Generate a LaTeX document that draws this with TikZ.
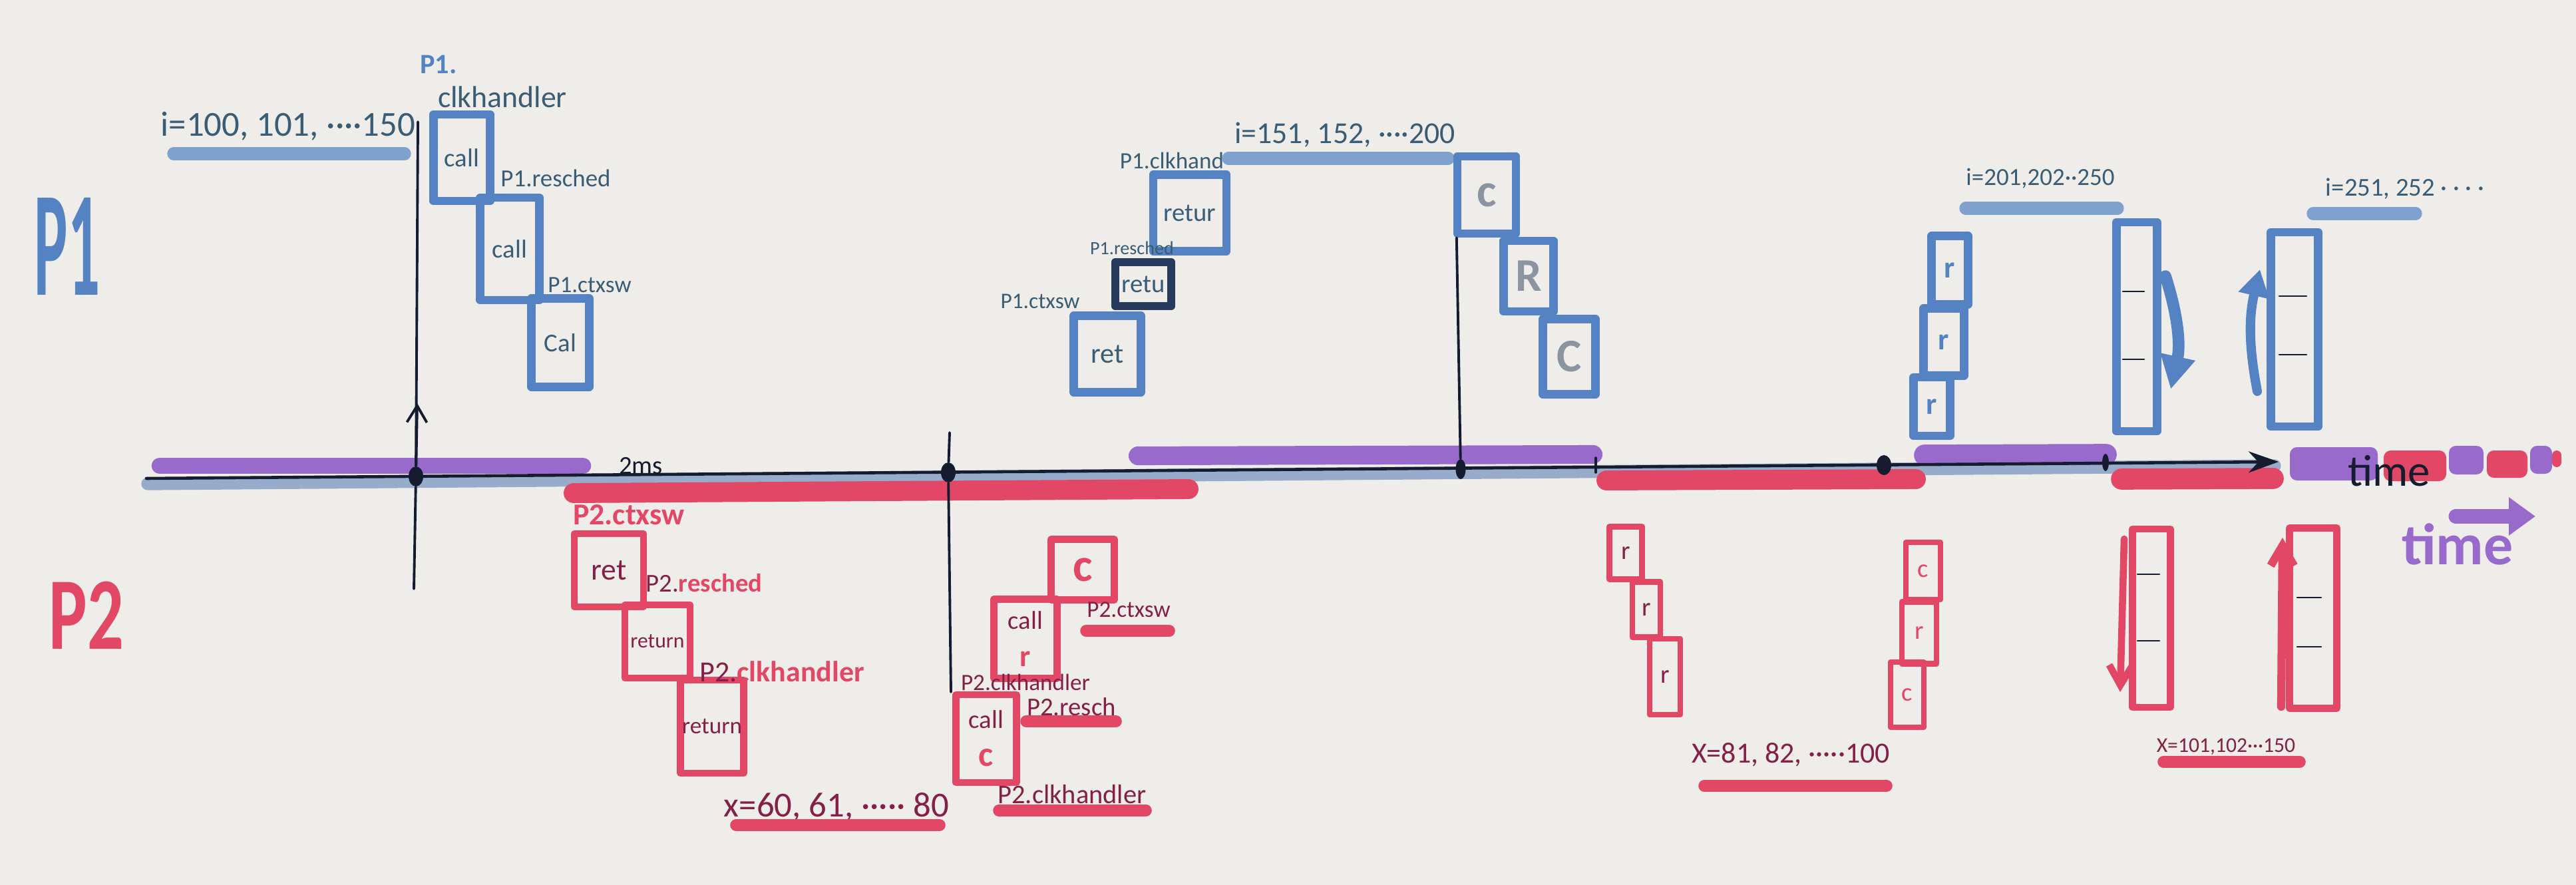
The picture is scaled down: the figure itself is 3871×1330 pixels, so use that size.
\documentclass[tikz,border=0pt]{standalone}
\usepackage{fontspec}
\setmainfont{Carlito}
\usetikzlibrary{arrows.meta,shapes.geometric}
\definecolor{board}{RGB}{238,237,233}
\definecolor{markblue}{RGB}{84,130,194}
\definecolor{lineblue}{RGB}{128,160,206}
\definecolor{axisblue}{RGB}{150,172,202}
\definecolor{markpurple}{RGB}{152,106,204}
\definecolor{markred}{RGB}{226,72,102}
\definecolor{inkblue}{RGB}{58,92,116}
\definecolor{inkred}{RGB}{132,32,72}
\definecolor{inkgrey}{RGB}{140,148,160}
\definecolor{inkdark}{RGB}{22,28,48}
\newcommand{\fsz}[1]{\fontsize{#1}{#1}\selectfont}

\begin{document}
\begin{tikzpicture}[x=0.01cm, y=-0.01cm, line cap=round, line join=round,
  every node/.style={inner sep=0pt},
  boxsz/.style 2 args={minimum width=#1mm, minimum height=#2mm},
  bluebox/.style={draw=markblue, line width=3.5pt, text=inkblue, font=\fsz{11}},
  redbox/.style={draw=markred, line width=3pt, text=inkred, font=\fsz{11}},
  bluelbl/.style={text=inkblue, font=\fsz{11}},
  redlbl/.style={text=inkred, font=\fsz{11}},
  blueline/.style={lineblue, line width=5.5pt},
  redline/.style={markred, line width=5pt},
  blueband/.style={axisblue, line width=5.5pt},
  purpleband/.style={markpurple, line width=8pt},
  redband/.style={markred, line width=8.5pt},
  axisdot/.style={ellipse, fill=inkdark, minimum width=2.2mm, minimum height=3mm},
  divider/.style={inkdark, line width=0.8pt}]
\fill[board] (0,0) rectangle (3871,1330);
\useasboundingbox (0,0) rectangle (3871,1330);

\draw[blueband] (222,727) -- (3418,700);
\draw[purpleband, line width=7pt] (240,700) -- (876,700);
\draw[purpleband] (1710,685) -- (2394,683);
\draw[purpleband, line width=9pt] (2892,684) -- (3165,683);
\draw[redband] (862,741) -- (1786,735);
\draw[redband] (2414,722) -- (2879,720);
\draw[redband, line width=9pt] (3188,720) -- (3416,719);
\fill[markpurple, rounded corners=3pt] (3441,672) rectangle (3573,722);
\fill[markred, rounded corners=3pt] (3582,677) rectangle (3676,723);
\fill[markpurple, rounded corners=3pt] (3680,670) rectangle (3732,713);
\fill[markred, rounded corners=3pt] (3737,677) rectangle (3798,718);
\fill[markpurple, rounded corners=3pt] (3802,670) rectangle (3835,712);
\fill[markred, rounded corners=2pt] (3835,677) rectangle (3849,702);

\coordinate (ax0) at (220,719);
\coordinate (ax1) at (3424,694);
\draw[inkdark, line width=1.3pt, -{Stealth[length=4.5mm, width=3.2mm]}] (ax0) -- (ax1);
\draw[inkdark, line width=1pt] (2398,688) -- (2398,710);
\node[axisdot] (dt1) at (625,716) {};
\node[axisdot] (dt2) at (1425,710) {};
\node[axisdot, minimum width=1.5mm] (dt3) at (2195,705) {};
\node[axisdot] (dt4) at (2831,699) {};
\node[axisdot, minimum width=1mm, minimum height=2.6mm] (dt5) at (3164,695) {};
\node[font=\fsz{11}, text=inkdark] (twoms) at (963,700) {2ms};
\node[font=\fsz{19}, text=inkdark] (timelbl) at (3590,708) {time};

\node[text=markblue, font=\fsz{64}\bfseries, xscale=0.42, transform shape] (pone) at (101,370) {P1};
\node[text=markred, font=\fsz{44}\bfseries, xscale=0.7, transform shape] (ptwo) at (130,925) {P2};

\node[bluebox, boxsz={8.5}{13}] (clkA) at (694,237) {call};
\node[bluebox, boxsz={8.9}{15.4}] (resA) at (766,374) {call};
\node[bluebox, boxsz={8.7}{13.3}] (ctxA) at (842,515) {Cal};
\node[text=markblue, font=\fsz{12}\bfseries] (pA) at (659,97) {P1.};
\node[bluelbl, font=\fsz{13}] (clkAlbl) at (755,146) {clkhandler};
\node[bluelbl, font=\fsz{10.5}] (resAlbl) at (835,268) {P1.resched};
\node[bluelbl, font=\fsz{10}] (ctxAlbl) at (886,428) {P1.ctxsw};
\node[bluelbl, font=\fsz{15}] (rangeA) at (433,190) {i=100, 101, ····150};
\draw[blueline] (261,231) -- (608,231);
\coordinate (v1t) at (628,183);
\coordinate (v1b) at (622,885);
\coordinate (v1a) at (627,606);
\draw[inkdark, line width=1.1pt] (v1b) -- (dt1) -- (v1t);
\draw[inkdark, line width=1.1pt, -{Straight Barb[length=2.5mm, width=3mm]}] (dt1) -- (v1a);

\node[bluebox, boxsz={11}{11.5}] (clkB) at (1788,320) {retur};
\node[bluebox, boxsz={8.4}{6.6}, draw=inkdark!70!markblue] (resB) at (1718,427) {retu};
\node[bluebox, boxsz={10.1}{11.5}, font=\fsz{12}] (ctxB) at (1664,532) {ret};
\node[bluelbl, font=\fsz{10}] (clkBlbl) at (1761,241) {P1.clkhand};
\node[bluelbl, font=\fsz{8}] (resBlbl) at (1701,373) {P1.resched};
\node[bluelbl, font=\fsz{9.5}] (ctxBlbl) at (1563,453) {P1.ctxsw};
\node[bluelbl, font=\fsz{13}] (rangeB) at (2021,203) {i=151, 152, ····200};
\draw[blueline] (1846,238) -- (2176,238);

\node[bluebox, boxsz={8.8}{11.6}, text=inkgrey, font=\fsz{20}\bfseries] (cC1) at (2234,293) {c};
\node[bluebox, boxsz={7.5}{10.6}, text=inkgrey, font=\fsz{20}\bfseries] (cC2) at (2297,415) {R};
\node[bluebox, boxsz={7.9}{11.3}, text=inkgrey, font=\fsz{20}\bfseries] (cC3) at (2358,536) {C};
\draw[inkdark, line width=1.1pt] ([xshift=0.5mm]cC1.south west) -- (dt3);

\node[bluebox, boxsz={5.5}{10.3}, text=markblue, font=\fsz{13}\bfseries] (rD1) at (2930,406) {r};
\node[bluebox, boxsz={6.1}{10.1}, text=markblue, font=\fsz{13}\bfseries] (rD2) at (2921,514) {r};
\node[bluebox, boxsz={5.5}{8.8}, text=markblue, font=\fsz{13}\bfseries] (rD3) at (2903,611) {r};
\node[bluebox, boxsz={6.1}{31.4}] (tallD1) at (3211,491) {};
\node[bluebox, boxsz={7.1}{29.2}] (tallD2) at (3448,495) {};
\draw[divider] (3190,438) -- (3222,438);
\draw[divider] (3190,540) -- (3222,540);
\draw[divider] (3425,445) -- (3466,445);
\draw[divider] (3425,533) -- (3466,533);
\draw[markblue, line width=5pt, -{Triangle[length=5mm, width=5mm]}] (3254,415) to[bend left=15] (3262,585);
\draw[markblue, line width=4pt, -{Triangle[length=4mm, width=4.5mm]}] (3392,588) to[bend left=12] (3396,405);
\node[bluelbl, font=\fsz{10.5}] (rangeD) at (3066,268) {i=201,202··250};
\draw[blueline] (2954,313) -- (3182,313);
\node[bluelbl, font=\fsz{11}] (rangeE) at (3614,284) {i=251, 252 · · · ·};
\draw[blueline] (3476,321) -- (3630,321);

\node[redbox, boxsz={10.4}{11}, font=\fsz{13}] (ctxP) at (915,857) {ret};
\node[redbox, boxsz={9.8}{11}, font=\fsz{9}] (resP) at (988,964) {return};
\node[redbox, boxsz={9.5}{14}, font=\fsz{10}] (clkP) at (1070,1092) {return};
\node[text=markred, font=\fsz{13}\bfseries] (ctxPlbl) at (945,774) {P2.ctxsw};
\node[redlbl, font=\fsz{11}] (resPlbl) at (1058,876) {P2.\textcolor{markred}{\bfseries resched}};
\node[redlbl, font=\fsz{12.5}] (clkPlbl) at (1175,1009) {P2.\textcolor{markred}{\bfseries clkhandler}};
\node[redlbl, font=\fsz{15}] (rangeP) at (1257,1213) {x=60, 61, ····· 80};
\draw[redline] (1106,1240) -- (1412,1240);
\coordinate (v2t) at (1427,650);
\coordinate (v2b) at (1429,1040);
\draw[inkdark, line width=1.1pt] (v2b) -- (dt2) -- (v2t);

\node[redbox, boxsz={9.5}{9.1}, text=markred, font=\fsz{20}\bfseries] (ctxQ) at (1627,856) {c};
\node[redbox, boxsz={9.5}{11.9}, align=center] (resQ) at (1541,960) {call\\[1.8mm]\textcolor{markred}{\bfseries\fsz{13}r}};
\node[redbox, boxsz={9.1}{13.2}, align=center] (clkQ) at (1482,1110) {call\\[1.8mm]\textcolor{markred}{\bfseries\fsz{15}c}};
\node[redlbl, font=\fsz{10}] (ctxQlbl) at (1696,916) {P2.ctxsw};
\draw[redline] (1632,948) -- (1757,948);
\node[redlbl, font=\fsz{10}] (clkQlbl) at (1541,1025) {P2.clkhandler};
\node[redlbl, font=\fsz{11}] (resQlbl) at (1610,1062) {P2.resch};
\draw[redline] (1542,1084) -- (1677,1084);
\node[redlbl, font=\fsz{11.5}] (clkQlbl2) at (1611,1194) {P2.clkhandler};
\draw[redline] (1501,1218) -- (1722,1218);

\node[redbox, line width=2.5pt, boxsz={4.9}{7.9}] (rR1) at (2443,831) {r};
\node[redbox, line width=2.5pt, boxsz={4.2}{8.3}] (rR2) at (2474,916) {r};
\node[redbox, line width=2.5pt, boxsz={4.6}{11.4}] (rR3) at (2502,1017) {r};
\node[redbox, line width=2.5pt, boxsz={5.2}{8.6}, text=markred] (cS1) at (2890,858) {c};
\node[redbox, line width=2.5pt, boxsz={5.2}{9.3}, text=markred] (rS2) at (2884,951) {r};
\node[redbox, line width=2.5pt, boxsz={5}{9.8}, text=markred] (cS3) at (2866,1044) {c};
\node[redlbl, font=\fsz{12.5}] (rangeR) at (2691,1134) {X=81, 82, ·····100};
\draw[redline] (2561,1181) -- (2835,1181);

\node[redbox, boxsz={5.7}{26.8}] (tallT1) at (3233,929) {};
\node[redbox, boxsz={7.1}{27.1}] (tallT2) at (3476,929) {};
\draw[divider] (3212,863) -- (3245,863);
\draw[divider] (3212,963) -- (3245,963);
\draw[divider] (3452,898) -- (3488,898);
\draw[divider] (3452,972) -- (3488,972);
\draw[markred, line width=3pt, -{Straight Barb[length=3mm, width=3.5mm]}] (3192,810) -- (3186,1040);
\draw[markred, line width=3.5pt, -{Straight Barb[length=3mm, width=3.5mm]}] (3428,1062) -- (3430,808);
\node[redlbl, font=\fsz{9}] (rangeT) at (3345,1122) {X=101,102···150};
\draw[redline] (3251,1145) -- (3456,1145);

\node[text=markpurple, font=\fsz{25}\bfseries] (timekey) at (3693,818) {time};
\draw[markpurple, line width=6pt, -{Triangle[length=4mm, width=5.5mm]}] (3690,776) -- (3810,776);
\end{tikzpicture}
\end{document}
